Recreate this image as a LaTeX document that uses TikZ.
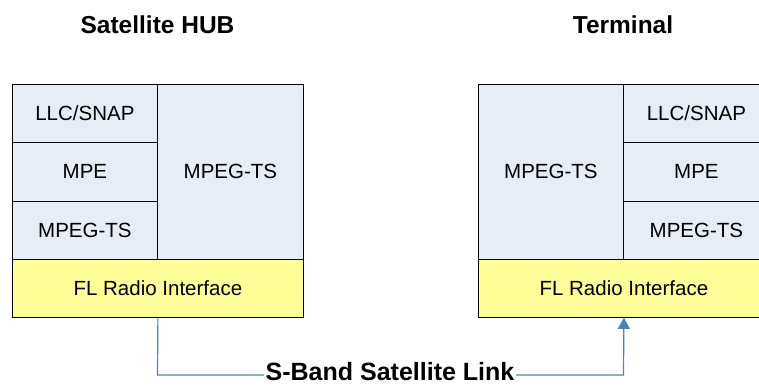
\documentclass[tikz,border=0pt]{standalone}
\usepackage{fontspec}
\setmainfont{Liberation Sans}
\usetikzlibrary{arrows.meta}
\definecolor{layerblue}{RGB}{231,237,247}
\definecolor{radioyellow}{RGB}{255,255,153}
\definecolor{linkblue}{RGB}{79,129,189}
\begin{document}
\begin{tikzpicture}[x=1pt,y=-1pt,
  cell/.style={draw=black, line width=0.8pt, fill=layerblue, inner sep=0pt,
    anchor=north west, align=center, font=\fontsize{20.5}{24}\selectfont},
  radio/.style={cell, fill=radioyellow},
  heading/.style={font=\bfseries\fontsize{24.5}{28}\selectfont, inner sep=0pt},
  link/.style={draw=linkblue, line width=1.2pt}]
  \useasboundingbox (0,0) rectangle (759,385);
  \clip (0,0) rectangle (759,385);

  % Satellite HUB protocol stack
  \node[heading] (hubtitle) at (157.5,25) {Satellite HUB};
  \node[cell, minimum width=145pt, minimum height=58.25pt] (hllc) at (12,84) {LLC/SNAP};
  \node[cell, minimum width=145pt, minimum height=58.25pt] (hmpe) at (12,142.25) {MPE};
  \node[cell, minimum width=145pt, minimum height=58.25pt] (hts) at (12,200.5) {MPEG-TS};
  \node[cell, minimum width=146pt, minimum height=174.75pt] (htsbig) at (157,84) {MPEG-TS};
  \node[radio, minimum width=291pt, minimum height=58.25pt] (hfl) at (12,258.75) {FL Radio Interface};

  % Terminal protocol stack
  \node[heading] (termtitle) at (623,25) {Terminal};
  \node[cell, minimum width=145pt, minimum height=174.75pt] (ttsbig) at (478,84) {MPEG-TS};
  \node[cell, minimum width=146pt, minimum height=58.25pt] (tllc) at (623,84) {LLC/SNAP};
  \node[cell, minimum width=146pt, minimum height=58.25pt] (tmpe) at (623,142.25) {MPE};
  \node[cell, minimum width=146pt, minimum height=58.25pt] (tts) at (623,200.5) {MPEG-TS};
  \node[radio, minimum width=291pt, minimum height=58.25pt] (tfl) at (478,258.75) {FL Radio Interface};

  % Satellite link between the radio interfaces
  \coordinate (linkdown) at (157.5,375);
  \coordinate (linkup) at (623.5,375);
  \draw[link, -{Triangle[length=11pt,width=12pt]}]
    (hfl.south) -- (linkdown) -- (linkup) -- (tfl.south);
  \node[heading, font=\bfseries\fontsize{25}{28}\selectfont, fill=white,
    inner xsep=2pt, inner ysep=0pt] (linklabel) at (390,372) {S-Band Satellite Link};
\end{tikzpicture}
\end{document}
